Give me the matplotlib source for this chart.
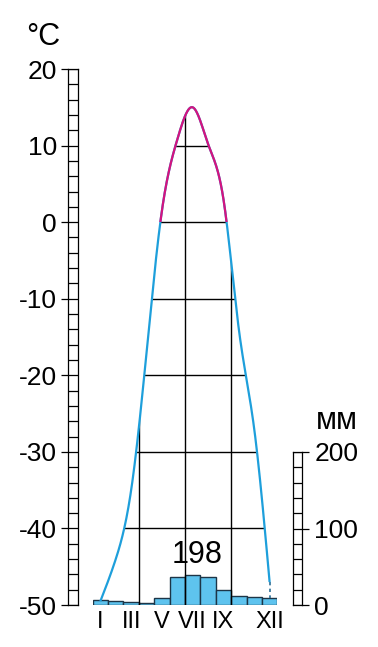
import numpy as np
import matplotlib
matplotlib.use("Agg")
import matplotlib.pyplot as plt
from matplotlib.patches import Polygon, Rectangle
from matplotlib.ticker import MultipleLocator

plt.rcParams['font.family'] = ['Liberation Sans', 'DejaVu Sans']
plt.rcParams['axes.unicode_minus'] = False

# data
months = np.arange(1, 13)
month_labels = ['I', 'III', 'V', 'VII', 'IX', 'XII']
month_label_pos = [1, 3, 5, 7, 9, 12]
temp = [-49.5, -44.0, -35.0, -17.0, 1.5, 10.8, 15.0, 10.2, 3.0, -14.0, -27.0, -47.0]
precip = [7, 5, 4, 3, 9, 37, 39, 37, 20, 12, 11, 9]
annual_total = 198
temp_ticks = [-50, -40, -30, -20, -10, 0, 10, 20]
precip_ticks = [0, 100, 200]
season_lines = [3.5, 6.5, 9.5]

blue = '#1e9fdb'
magenta = '#d4137f'
bar_fill = '#5ec3ee'
bar_edge = '#1d3547'


def natural_spline(x, y, n=600):
    # natural cubic spline through the monthly points
    x = np.asarray(x, float)
    y = np.asarray(y, float)
    k = len(x)
    hs = np.diff(x)
    A = np.zeros((k, k))
    b = np.zeros(k)
    A[0, 0] = A[-1, -1] = 1
    for i in range(1, k - 1):
        A[i, i - 1] = hs[i - 1]
        A[i, i] = 2 * (hs[i - 1] + hs[i])
        A[i, i + 1] = hs[i]
        b[i] = 6 * ((y[i + 1] - y[i]) / hs[i] - (y[i] - y[i - 1]) / hs[i - 1])
    m = np.linalg.solve(A, b)
    xs = np.linspace(x[0], x[-1], n)
    idx = np.clip(np.searchsorted(x, xs) - 1, 0, k - 2)
    x0, x1 = x[idx], x[idx + 1]
    hh = x1 - x0
    a = (x1 - xs) / hh
    c = (xs - x0) / hh
    ys = (a * y[idx] + c * y[idx + 1]
          + ((a ** 3 - a) * m[idx] + (c ** 3 - c) * m[idx + 1]) * hh ** 2 / 6)
    return xs, ys


fig = plt.figure(figsize=(3.78, 6.47), dpi=100)
bottom = 0.0649
height = 0.8284

# main plotting area
ax2 = fig.add_axes([0.2452, bottom, 0.4884, height])
ax = ax2.twinx()
ax.set_zorder(ax2.get_zorder() + 1)
ax.patch.set_visible(False)

ax2.set_xlim(0.5, 12.5)
ax2.set_ylim(0, 700)
ax.set_ylim(-50, 20)

ax2.bar(months, precip, width=1, color=bar_fill, edgecolor=bar_edge, linewidth=1)
ax2.annotate(str(annual_total), (7, precip[6]), xytext=(3, 4), textcoords='offset points',
             ha='center', va='bottom', fontsize=22, family=['Liberation Sans Narrow', 'Liberation Sans'])

xs, ys = natural_spline(months, temp)

clip = Polygon(np.c_[np.r_[xs, xs[-1], xs[0]], np.r_[ys, -50, -50]],
               closed=True, transform=ax.transData)
h = ax.hlines(range(-40, 20, 10), 0.5, 12.5, color='black', lw=1)
v = ax.vlines(season_lines, -50, 20, color='black', lw=1)
h.set_clip_path(clip)
v.set_clip_path(clip)

ax.plot(xs, ys, color=blue, lw=1.6, solid_capstyle='butt')
warm = ax.plot(xs, ys, color=magenta, lw=1.6)[0]
warm.set_clip_path(Rectangle((0.5, 0), 12, 20, transform=ax.transData))
ax.plot([12, 12], [temp[-1], -50 + precip[-1] / 10], color='#2b6e96', lw=1.2, ls=(0, (2, 2)))

for a in (ax, ax2):
    for s in a.spines.values():
        s.set_visible(False)
ax.set_yticks([])
ax2.set_yticks([])
ax2.set_xticks(month_label_pos)
ax2.set_xticklabels(month_labels, fontsize=17)
ax2.tick_params(axis='x', length=0, pad=4)

# left ruler, temperature
axl = fig.add_axes([0.1799, bottom, 0.0265, height])
axl.set_ylim(-50, 20)
axl.set_xticks([])
axl.set_yticks(temp_ticks)
axl.yaxis.set_minor_locator(MultipleLocator(2))
axl.grid(which='both', axis='y', color='black', lw=0.9)
axl.tick_params(axis='y', which='major', length=5, width=0.9, pad=3, labelsize=19)
axl.tick_params(axis='y', which='minor', length=0)
for s in axl.spines.values():
    s.set_linewidth(0.9)

# right ruler, precipitation
axr = fig.add_axes([0.7751, bottom, 0.0238, 0.2365])
axr.set_ylim(0, 200)
axr.set_xticks([])
axr.set_yticks(precip_ticks)
axr.yaxis.set_minor_locator(MultipleLocator(20))
axr.yaxis.tick_right()
axr.grid(which='both', axis='y', color='black', lw=0.9)
axr.tick_params(axis='y', which='major', length=5, width=0.9, pad=4, labelsize=19)
axr.tick_params(axis='y', which='minor', length=0)
for s in axr.spines.values():
    s.set_linewidth(0.9)

fig.text(0.113, 0.943, '°C', ha='center', va='center', fontsize=22,
         family=['Liberation Sans Narrow', 'Liberation Sans'])
fig.text(0.8907, 0.3498, 'мм', ha='center', va='center', fontsize=22)

fig.savefig('out.png', dpi=100)
